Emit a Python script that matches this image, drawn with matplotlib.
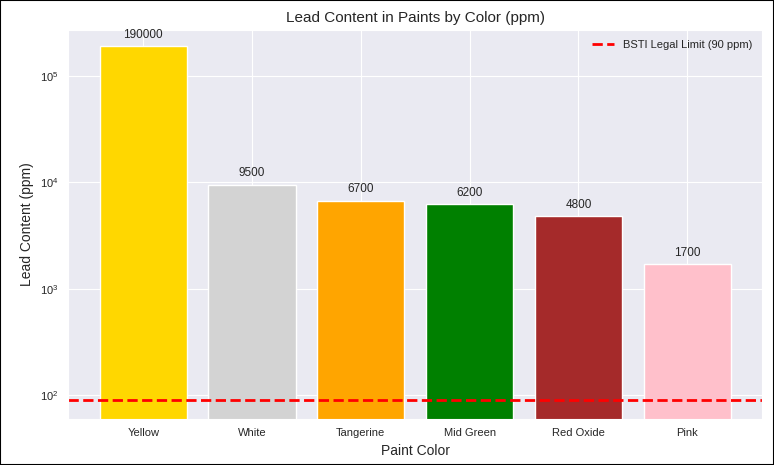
import matplotlib
matplotlib.use("Agg")
import matplotlib.pyplot as plt
import seaborn as sns

sns.set_style("darkgrid")
plt.rcParams['font.family'] = ['Liberation Sans', 'DejaVu Sans']

colors_names = ["Yellow", "White", "Tangerine", "Mid Green", "Red Oxide", "Pink"]
lead_ppm = [190000, 9500, 6700, 6200, 4800, 1700]
bar_colors = ["gold", "lightgray", "orange", "green", "brown", "pink"]
limit = 90

fig = plt.figure(figsize=(7.74, 4.65), dpi=100)
ax = fig.add_axes([0.088, 0.1, 0.897, 0.835])
bars = ax.bar(colors_names, lead_ppm, color=bar_colors)
ax.set_yscale("log")
ax.set_ylim(60, 270000)
ax.axhline(limit, color="red", linestyle="--", linewidth=2, label="BSTI Legal Limit (90 ppm)")
for b, v in zip(bars, lead_ppm):
    ax.annotate(str(v), (b.get_x() + b.get_width()/2, v), xytext=(0, 4),
                textcoords="offset points", ha="center", va="bottom", fontsize=8.5)
ax.set_title("Lead Content in Paints by Color (ppm)", fontsize=11)
ax.set_xlabel("Paint Color", fontsize=10)
ax.set_ylabel("Lead Content (ppm)", fontsize=10)
ax.tick_params(labelsize=8)
ax.legend(loc="upper right", fontsize=8, frameon=False)
fig.patches.append(plt.Rectangle((0, 0), 1, 1, transform=fig.transFigure,
                                 fill=False, edgecolor="black", linewidth=1.5))
fig.savefig("out.png", dpi=100)
